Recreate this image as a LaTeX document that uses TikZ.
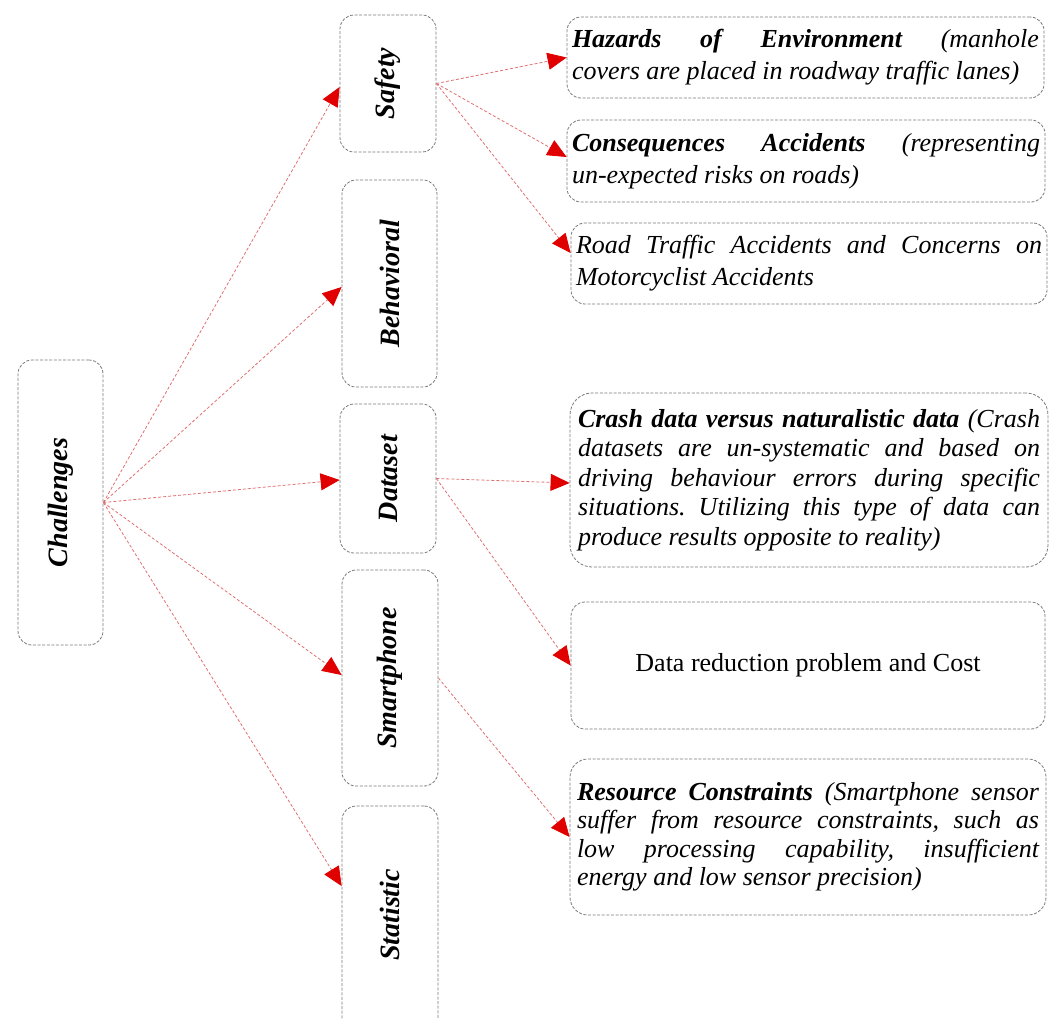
\documentclass[tikz,border=0pt]{standalone}
\usepackage{fontspec}
\usepackage{graphicx}
\setmainfont{Liberation Serif}
\frenchspacing
\usetikzlibrary{arrows.meta}
\definecolor{boxgray}{HTML}{7A7A7A}
\definecolor{shaftred}{HTML}{E07070}
\definecolor{tipred}{HTML}{E00000}
\begin{document}
\begin{tikzpicture}[x=1pt,y=-1pt,
  box/.style={draw=boxgray, line width=0.8pt, dash pattern=on 3pt off 1.6pt,
    rounded corners=14pt, inner sep=0pt, anchor=center},
  midbox/.style={box, font=\fontsize{28}{32}\selectfont\bfseries\itshape},
  txtbox/.style={box, inner xsep=5pt, align=justify,
    font=\fontsize{26}{32}\selectfont\itshape},
  conn/.style={draw=shaftred, line width=0.8pt, dash pattern=on 3pt off 2pt,
    -{Triangle[length=19pt,width=17pt,color=tipred]}}
]
\useasboundingbox (0,0) rectangle (1059,1018);

% left node
\node[midbox, minimum width=85pt, minimum height=285pt] (chal) at (60.5,502.5) {\rotatebox{90}{Challenges}};

% middle column
\node[midbox, minimum width=96pt, minimum height=137pt] (safety) at (388,83.5) {\rotatebox{90}{Safety}};
\node[midbox, minimum width=95pt, minimum height=207pt] (behav) at (389.5,283.5) {\rotatebox{90}{Behavioral}};
\node[midbox, minimum width=96pt, minimum height=149pt] (data) at (388,478.5) {\rotatebox{90}{Dataset}};
\node[midbox, minimum width=96pt, minimum height=216pt] (smart) at (390,678) {\rotatebox{90}{Smartphone}};
\node[midbox, minimum width=96pt, minimum height=240pt] (stat) at (390,926) {\rotatebox{90}{\hspace*{22pt}Statistic}};

% right column
\node[txtbox, minimum width=477pt, minimum height=81pt, text width=467pt] (haz) at (805.5,57.5)
  {\raisebox{-3pt}{}\textbf{Hazards of Environment} (manhole\linebreak covers are placed in roadway traffic lanes)};
\node[txtbox, minimum width=478pt, minimum height=82pt, text width=468pt] (cons) at (806,161)
  {\textbf{Consequences Accidents} (representing\linebreak un-expected risks on roads)};
\node[txtbox, minimum width=476pt, minimum height=81pt, text width=466pt] (road) at (809,263.5)
  {Road Traffic Accidents and Concerns on\linebreak Motorcyclist Accidents};
\node[txtbox, minimum width=478pt, minimum height=174pt, text width=462pt, inner xsep=8pt,
  font=\fontsize{26}{29.5}\selectfont\itshape, rounded corners=22pt] (crash) at (809,480)
  {\textbf{Crash data versus naturalistic data} (Crash\linebreak
   datasets are un-systematic and based on\linebreak
   driving behaviour errors during specific\linebreak
   situations. Utilizing this type of data can\linebreak
   produce results opposite to reality)};
\node[box, minimum width=474pt, minimum height=127pt, font=\fontsize{26}{32}\selectfont] (red) at (808,665.5)
  {Data reduction problem and Cost};
\node[txtbox, minimum width=476pt, minimum height=156pt, text width=462pt, inner xsep=7pt,
  font=\fontsize{26}{28.5}\selectfont\itshape, rounded corners=18pt] (res) at (808,837)
  {\textbf{Resource Constraints} (Smartphone sensor\linebreak
   suffer from resource constraints, such as\linebreak
   low processing capability, insufficient\linebreak
   energy and low sensor precision)};

% connectors from Challenges
\draw[conn] (chal.east) -- ([yshift=-3.5pt]safety.west);
\draw[conn] (chal.east) -- ([yshift=-3.5pt]behav.west);
\draw[conn] (chal.east) -- ([yshift=-1.5pt]data.west);
\draw[conn] (chal.east) -- ([yshift=3pt]smart.west);
\draw[conn] (chal.east) -- ([yshift=40pt]stat.west);

% connectors from Safety
\draw[conn] (safety.east) -- (haz.west);
\draw[conn] (safety.east) -- ([yshift=4pt]cons.west);
\draw[conn] (safety.east) -- ([yshift=10.5pt]road.west);

% connectors from Dataset
\draw[conn] (data.east) -- ([yshift=-3pt]crash.west);
\draw[conn] (data.east) -- (red.west);

% connector from Smartphone
\draw[conn] (smart.east) -- (res.west);
\end{tikzpicture}
\end{document}
